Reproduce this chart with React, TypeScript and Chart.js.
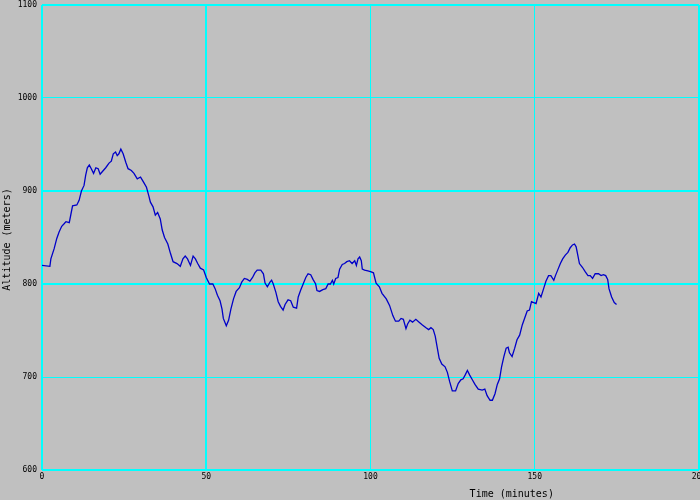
import React, { useEffect, useRef } from "react";
import { Chart, registerables } from "chart.js";

Chart.register(...registerables);

const minutes = [
  0, 2.4, 2.7, 3.7, 4.5, 5.2, 6, 6.8, 7.3, 8.3, 8.8, 9.3, 10.6, 11.3, 12, 12.8, 13.3, 13.8, 14.4, 15,
  15.7, 16.4, 17.1, 17.7, 18.4, 19.4, 20.4, 21.1, 21.7, 22.4, 22.9, 23.4, 24, 24.7, 25.5, 26.2, 27.2, 28, 29, 30,
  31, 31.8, 32.5, 33, 33.8, 34.5, 35.2, 36, 36.6, 37.3, 38.3, 39.1, 39.9, 41.1, 42.1, 42.9, 43.6, 44.3, 45.2, 46,
  46.7, 47.4, 48.2, 49.2, 50, 51, 52, 52.7, 53.4, 54.2, 54.8, 55.2, 56.1, 56.8, 57.5, 58.3, 59.1, 60.1, 60.8, 61.6,
  62.5, 63.3, 64.1, 64.8, 65.5, 66.6, 67.4, 67.9, 68.6, 69.4, 69.9, 70.4, 71.2, 71.9, 72.6, 73.4, 74, 74.9, 75.7, 76.5,
  77.5, 78, 78.7, 79.5, 80.3, 81, 81.8, 82.5, 83.3, 83.7, 84.5, 85.5, 86.4, 87.1, 87.8, 88.4, 88.8, 89.4, 90.1, 90.6,
  91.4, 92.1, 92.8, 93.6, 94.4, 95.2, 95.7, 96.2, 96.7, 97.2, 97.5, 98.2, 99.2, 100.2, 100.9, 101.7, 102.7, 103.5, 104.8, 105.8,
  106.8, 107.6, 108.6, 109.3, 110, 110.8, 111.3, 112, 112.8, 113.8, 114.8, 115.8, 116.9, 117.7, 118.4, 119.1, 119.7, 120.4, 120.9, 121.7,
  122.7, 123.4, 124.1, 124.9, 125.9, 126.7, 127.5, 128.2, 128.8, 129.5, 130.2, 131, 131.8, 132.8, 134, 134.8, 135.5, 136.4, 137.1, 137.9,
  138.6, 139.3, 139.9, 140.6, 141.3, 141.9, 142.3, 143.1, 143.9, 144.6, 145.4, 146.2, 147, 147.7, 148.4, 149, 149.7, 150.4, 151.2, 151.9,
  152.7, 153.4, 154.2, 154.9, 155.8, 156.3, 157.1, 157.8, 158.5, 159.3, 160.1, 160.8, 161.5, 162.1, 162.6, 163.1, 163.6, 164.5, 165.4, 166.2,
  166.9, 167.6, 168.4, 169.4, 170.2, 170.9, 171.6, 172.2, 172.6, 173.4, 174.2, 174.9,
];

const altitude = [
  820, 819, 827, 838, 849, 856, 862, 865, 867, 866, 875, 884, 885, 890, 900, 906, 917, 925, 928, 924,
  919, 925, 924, 918, 921, 925, 930, 932, 940, 942, 938, 940, 945, 940, 931, 924, 922, 919, 913, 915,
  909, 904, 895, 888, 883, 874, 877, 870, 858, 850, 843, 833, 824, 822, 819, 827, 830, 827, 820, 830,
  827, 822, 817, 815, 807, 800, 800, 795, 788, 782, 773, 763, 755, 761, 773, 784, 792, 796, 802, 806,
  805, 803, 807, 812, 815, 815, 811, 801, 797, 802, 804, 800, 791, 781, 776, 772, 778, 783, 782, 775,
  774, 786, 793, 800, 807, 811, 810, 805, 800, 793, 792, 794, 795, 800, 800, 804, 800, 806, 807, 816,
  821, 822, 824, 825, 822, 825, 820, 827, 829, 825, 816, 815, 814, 813, 812, 801, 797, 790, 784, 777,
  766, 760, 760, 763, 762, 752, 757, 761, 759, 762, 759, 756, 753, 751, 753, 751, 744, 730, 720, 714,
  711, 705, 695, 685, 685, 693, 697, 698, 702, 707, 702, 697, 692, 687, 686, 687, 680, 675, 675, 682,
  692, 698, 711, 722, 731, 732, 726, 722, 731, 740, 745, 756, 764, 771, 772, 781, 780, 779, 790, 786,
  795, 803, 809, 809, 804, 809, 816, 822, 827, 831, 834, 839, 842, 843, 840, 831, 822, 818, 813, 809,
  809, 806, 811, 811, 809, 810, 809, 805, 795, 786, 780, 778,
];

const xTickStep = 50;
const yTickStep = 100;
const xRange = [0, 200];
const yRange = [600, 1100];
const thickX = [0, 50, 200];
const thickY = [600, 800, 900, 1100];

const FONT = '"DejaVu Sans Mono", monospace';

const titlesPlugin = {
  id: "axisTitles",
  afterDraw(chart: any) {
    const { ctx, chartArea } = chart;
    ctx.save();
    ctx.fillStyle = "#000000";
    ctx.font = `10px ${FONT}`;
    ctx.textAlign = "center";
    ctx.textBaseline = "middle";
    const w = chartArea.right - chartArea.left;
    ctx.fillText("Time (minutes)", chartArea.left + w * 0.715, chart.height - 6);
    ctx.translate(7, (chartArea.top + chartArea.bottom) / 2 + 2);
    ctx.rotate(-Math.PI / 2);
    ctx.fillText("Altitude (meters)", 0, 0);
    ctx.restore();
  },
};

export default function App() {
  const ref = useRef<HTMLCanvasElement>(null);
  useEffect(() => {
    document.body.style.margin = "0";
    const canvas = ref.current!;
    const points = minutes.map((m, i) => ({ x: m, y: altitude[i] }));
    const chart = new Chart(canvas, {
      type: "line",
      data: {
        datasets: [
          {
            data: points,
            borderColor: "#0000C8",
            borderWidth: 1.3,
            pointRadius: 0,
            tension: 0,
            fill: false,
          },
        ],
      },
      options: {
        animation: false,
        responsive: false,
        maintainAspectRatio: false,
        layout: { padding: { top: 0, right: 11, bottom: 0, left: 1 } },
        plugins: { legend: { display: false }, tooltip: { enabled: false } },
        scales: {
          x: {
            type: "linear",
            min: xRange[0],
            max: xRange[1],
            border: { display: false },
            grid: {
              color: "#00FFFF",
              drawTicks: false,
              lineWidth: (c: any) => (c.tick && thickX.includes(c.tick.value) ? 2 : 1),
            },
            ticks: {
              stepSize: xTickStep,
              padding: 3,
              color: "#000000",
              maxRotation: 0,
              font: { family: FONT, size: 8, lineHeight: 1 },
              callback: (v: any) => String(v),
            },
            afterFit: (s: any) => {
              s.height = 30;
            },
          },
          y: {
            type: "linear",
            min: yRange[0],
            max: yRange[1],
            border: { display: false },
            grid: {
              color: "#00FFFF",
              drawTicks: false,
              lineWidth: (c: any) => (c.tick && thickY.includes(c.tick.value) ? 2 : 1),
            },
            ticks: {
              stepSize: yTickStep,
              padding: 5,
              color: "#000000",
              font: { family: FONT, size: 8, lineHeight: 1 },
              callback: (v: any) => String(v),
            },
            afterFit: (s: any) => {
              s.width = 41;
              s.paddingTop = 5;
              s.paddingBottom = 0;
            },
          },
        },
      },
      plugins: [titlesPlugin],
    });
    return () => chart.destroy();
  }, []);
  return (
    <div
      style={{
        position: "absolute",
        left: 0,
        top: 0,
        width: 700,
        height: 500,
        overflow: "hidden",
        background: "#C0C0C0",
      }}
    >
      <canvas ref={ref} width={710} height={500} style={{ display: "block", background: "#C0C0C0" }} />
    </div>
  );
}
